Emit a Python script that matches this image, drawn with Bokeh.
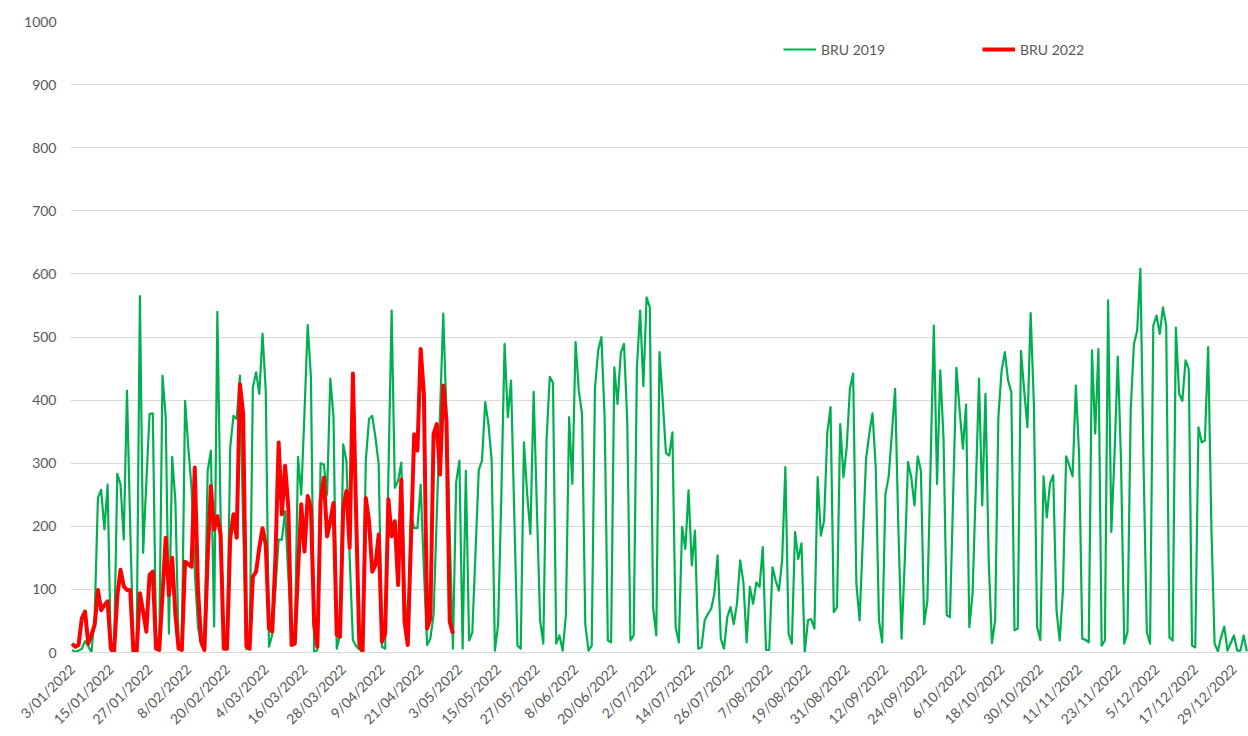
import math
from bokeh.plotting import figure
from bokeh.models import Range1d, FixedTicker, Legend, LegendItem, ColumnDataSource
from bokeh.embed import file_html
from bokeh.resources import INLINE

# BRU 2019 daily values (plotted against 2022 dates, starting 3/01/2022)
green_2019 = [
    4, 1, 3, 6, 18, 10, 0,
    60, 245, 258, 195, 266, 3, 0,
    283, 266, 179, 415, 200, 6, 8,
    565, 158, 270, 378, 379, 28, 10,
    439, 373, 30, 310, 240, 12, 10,
    399, 325, 260, 130, 40, 12, 8,
    288, 320, 41, 540, 219, 14, 10,
    326, 375, 370, 439, 200, 5, 8,
    420, 444, 410, 505, 415, 9, 28,
    100, 179, 179, 224, 120, 33, 20,
    310, 250, 380, 519, 436, 0, 4,
    300, 298, 250, 434, 373, 6, 28,
    330, 304, 150, 20, 10, 5, 15,
    304, 370, 375, 340, 298, 9, 6,
    280, 542, 261, 272, 301, 90, 35,
    219, 197, 197, 266, 130, 12, 22,
    60, 220, 380, 537, 378, 190, 6,
    270, 304, 6, 288, 19, 32, 160,
    289, 304, 397, 362, 304, 3, 45,
    250, 489, 373, 431, 220, 11, 6,
    333, 251, 188, 413, 230, 51, 14,
    336, 437, 427, 14, 27, 3, 59,
    373, 267, 492, 415, 378, 45, 3,
    11, 418, 479, 500, 373, 19, 16,
    452, 394, 475, 489, 368, 19, 27,
    452, 542, 422, 563, 547, 72, 27,
    476, 399, 316, 312, 349, 40, 16,
    199, 164, 257, 138, 193, 6, 8,
    51, 61, 69, 93, 154, 22, 6,
    56, 72, 45, 77, 146, 111, 16,
    104, 77, 111, 104, 167, 4, 4,
    135, 114, 98, 146, 294, 30, 14,
    191, 148, 173, 0, 51, 53, 38,
    278, 185, 209, 349, 389, 64, 72,
    362, 278, 325, 418, 442, 109, 51,
    180, 307, 347, 379, 294, 51, 16,
    251, 278, 347, 418, 199, 22, 146,
    302, 278, 233, 311, 288, 45, 82,
    300, 518, 267, 447, 340, 59, 56,
    250, 451, 384, 323, 393, 40, 93,
    260, 434, 233, 410, 146, 15, 51,
    373, 447, 476, 431, 413, 35, 38,
    478, 415, 357, 538, 394, 40, 20,
    279, 214, 268, 281, 67, 19, 98,
    311, 296, 279, 423, 315, 22, 20,
    16, 479, 347, 481, 11, 19, 558,
    191, 315, 469, 304, 14, 32, 384,
    489, 510, 608, 294, 32, 14, 518,
    534, 505, 547, 518, 24, 19, 515,
    410, 399, 463, 449, 11, 8, 357,
    333, 336, 484, 199, 14, 2, 24,
    41, 3, 15, 27, 3, 3, 27,
    2,
]

# BRU 2022 daily values (from 3/01/2022)
red_2022 = [
    14, 9, 12, 54, 65, 14, 28,
    44, 99, 67, 75, 81, 6, 1,
    89, 131, 105, 99, 99, 1, 1,
    94, 65, 33, 123, 128, 6, 4,
    91, 182, 91, 150, 60, 6, 4,
    144, 140, 136, 293, 100, 17, 4,
    150, 264, 195, 216, 187, 6, 6,
    182, 219, 182, 425, 378, 10, 6,
    120, 128, 166, 197, 171, 38, 33,
    150, 333, 219, 296, 229, 12, 14,
    130, 235, 160, 248, 229, 44, 9,
    240, 277, 184, 208, 237, 28, 25,
    229, 256, 166, 442, 219, 12, 1,
    245, 208, 128, 139, 187, 17, 30,
    243, 184, 208, 107, 274, 49, 12,
    180, 346, 320, 481, 410, 38, 54,
    346, 362, 282, 423, 367, 49, 30,
]

series_names = ["BRU 2019", "BRU 2022"]

tick_labels = [
    "3/01/2022", "15/01/2022", "27/01/2022", "8/02/2022", "20/02/2022",
    "4/03/2022", "16/03/2022", "28/03/2022", "9/04/2022", "21/04/2022",
    "3/05/2022", "15/05/2022", "27/05/2022", "8/06/2022", "20/06/2022",
    "2/07/2022", "14/07/2022", "26/07/2022", "7/08/2022", "19/08/2022",
    "31/08/2022", "12/09/2022", "24/09/2022", "6/10/2022", "18/10/2022",
    "30/10/2022", "11/11/2022", "23/11/2022", "5/12/2022", "17/12/2022",
    "29/12/2022",
]
tick_days = [12 * i for i in range(len(tick_labels))]
y_ticks = [0, 100, 200, 300, 400, 500, 600, 700, 800, 900, 1000]

TEXT = "#595959"
GRID = "#d9d9d9"

src_g = ColumnDataSource(dict(x=list(range(len(green_2019))), y=green_2019))
src_r = ColumnDataSource(dict(x=list(range(len(red_2022))), y=red_2022))

p = figure(width=1248, height=736,
           x_range=Range1d(-0.5, len(green_2019) - 0.5),
           y_range=Range1d(0, 1000),
           output_backend="svg", toolbar_location=None,
           min_border_left=70, min_border_right=0,
           min_border_top=21, min_border_bottom=84)
p.outline_line_color = None
p.background_fill_color = "white"
p.border_fill_color = "white"

p.xgrid.visible = False
p.ygrid.grid_line_color = GRID
p.ygrid.grid_line_width = 1

p.yaxis.ticker = FixedTicker(ticks=y_ticks)
p.yaxis.axis_line_color = None
p.yaxis.major_tick_line_color = None
p.yaxis.minor_tick_line_color = None
p.yaxis.major_label_text_font = "Lato"
p.yaxis.major_label_text_font_size = "14px"
p.yaxis.major_label_text_color = TEXT
p.yaxis.major_label_standoff = 8

p.xaxis.ticker = FixedTicker(ticks=tick_days)
p.xaxis.major_label_overrides = {d: lab for d, lab in zip(tick_days, tick_labels)}
p.xaxis.major_label_orientation = math.pi / 4
p.xaxis.axis_line_color = GRID
p.xaxis.major_tick_line_color = None
p.xaxis.minor_tick_line_color = None
p.xaxis.major_label_text_font = "Lato"
p.xaxis.major_label_text_font_size = "14px"
p.xaxis.major_label_text_color = TEXT
p.xaxis.major_label_standoff = 8

g = p.line("x", "y", source=src_g, line_color="#00b050", line_width=2.2, line_join="round")
r = p.line("x", "y", source=src_r, line_color="#ff0000", line_width=4, line_join="round")

def make_legend(name, rend, x):
    leg = Legend(items=[LegendItem(label=name, renderers=[rend])], location=(x, 593),
                 border_line_color=None, background_fill_alpha=0, padding=0, margin=0,
                 glyph_width=33, glyph_height=20, label_standoff=5,
                 label_text_font="Lato", label_text_font_size="14px",
                 label_text_color=TEXT)
    return leg

p.add_layout(make_legend(series_names[0], g, 713))
p.add_layout(make_legend(series_names[1], r, 912))

open("out.html", "w").write(file_html(p, INLINE))
